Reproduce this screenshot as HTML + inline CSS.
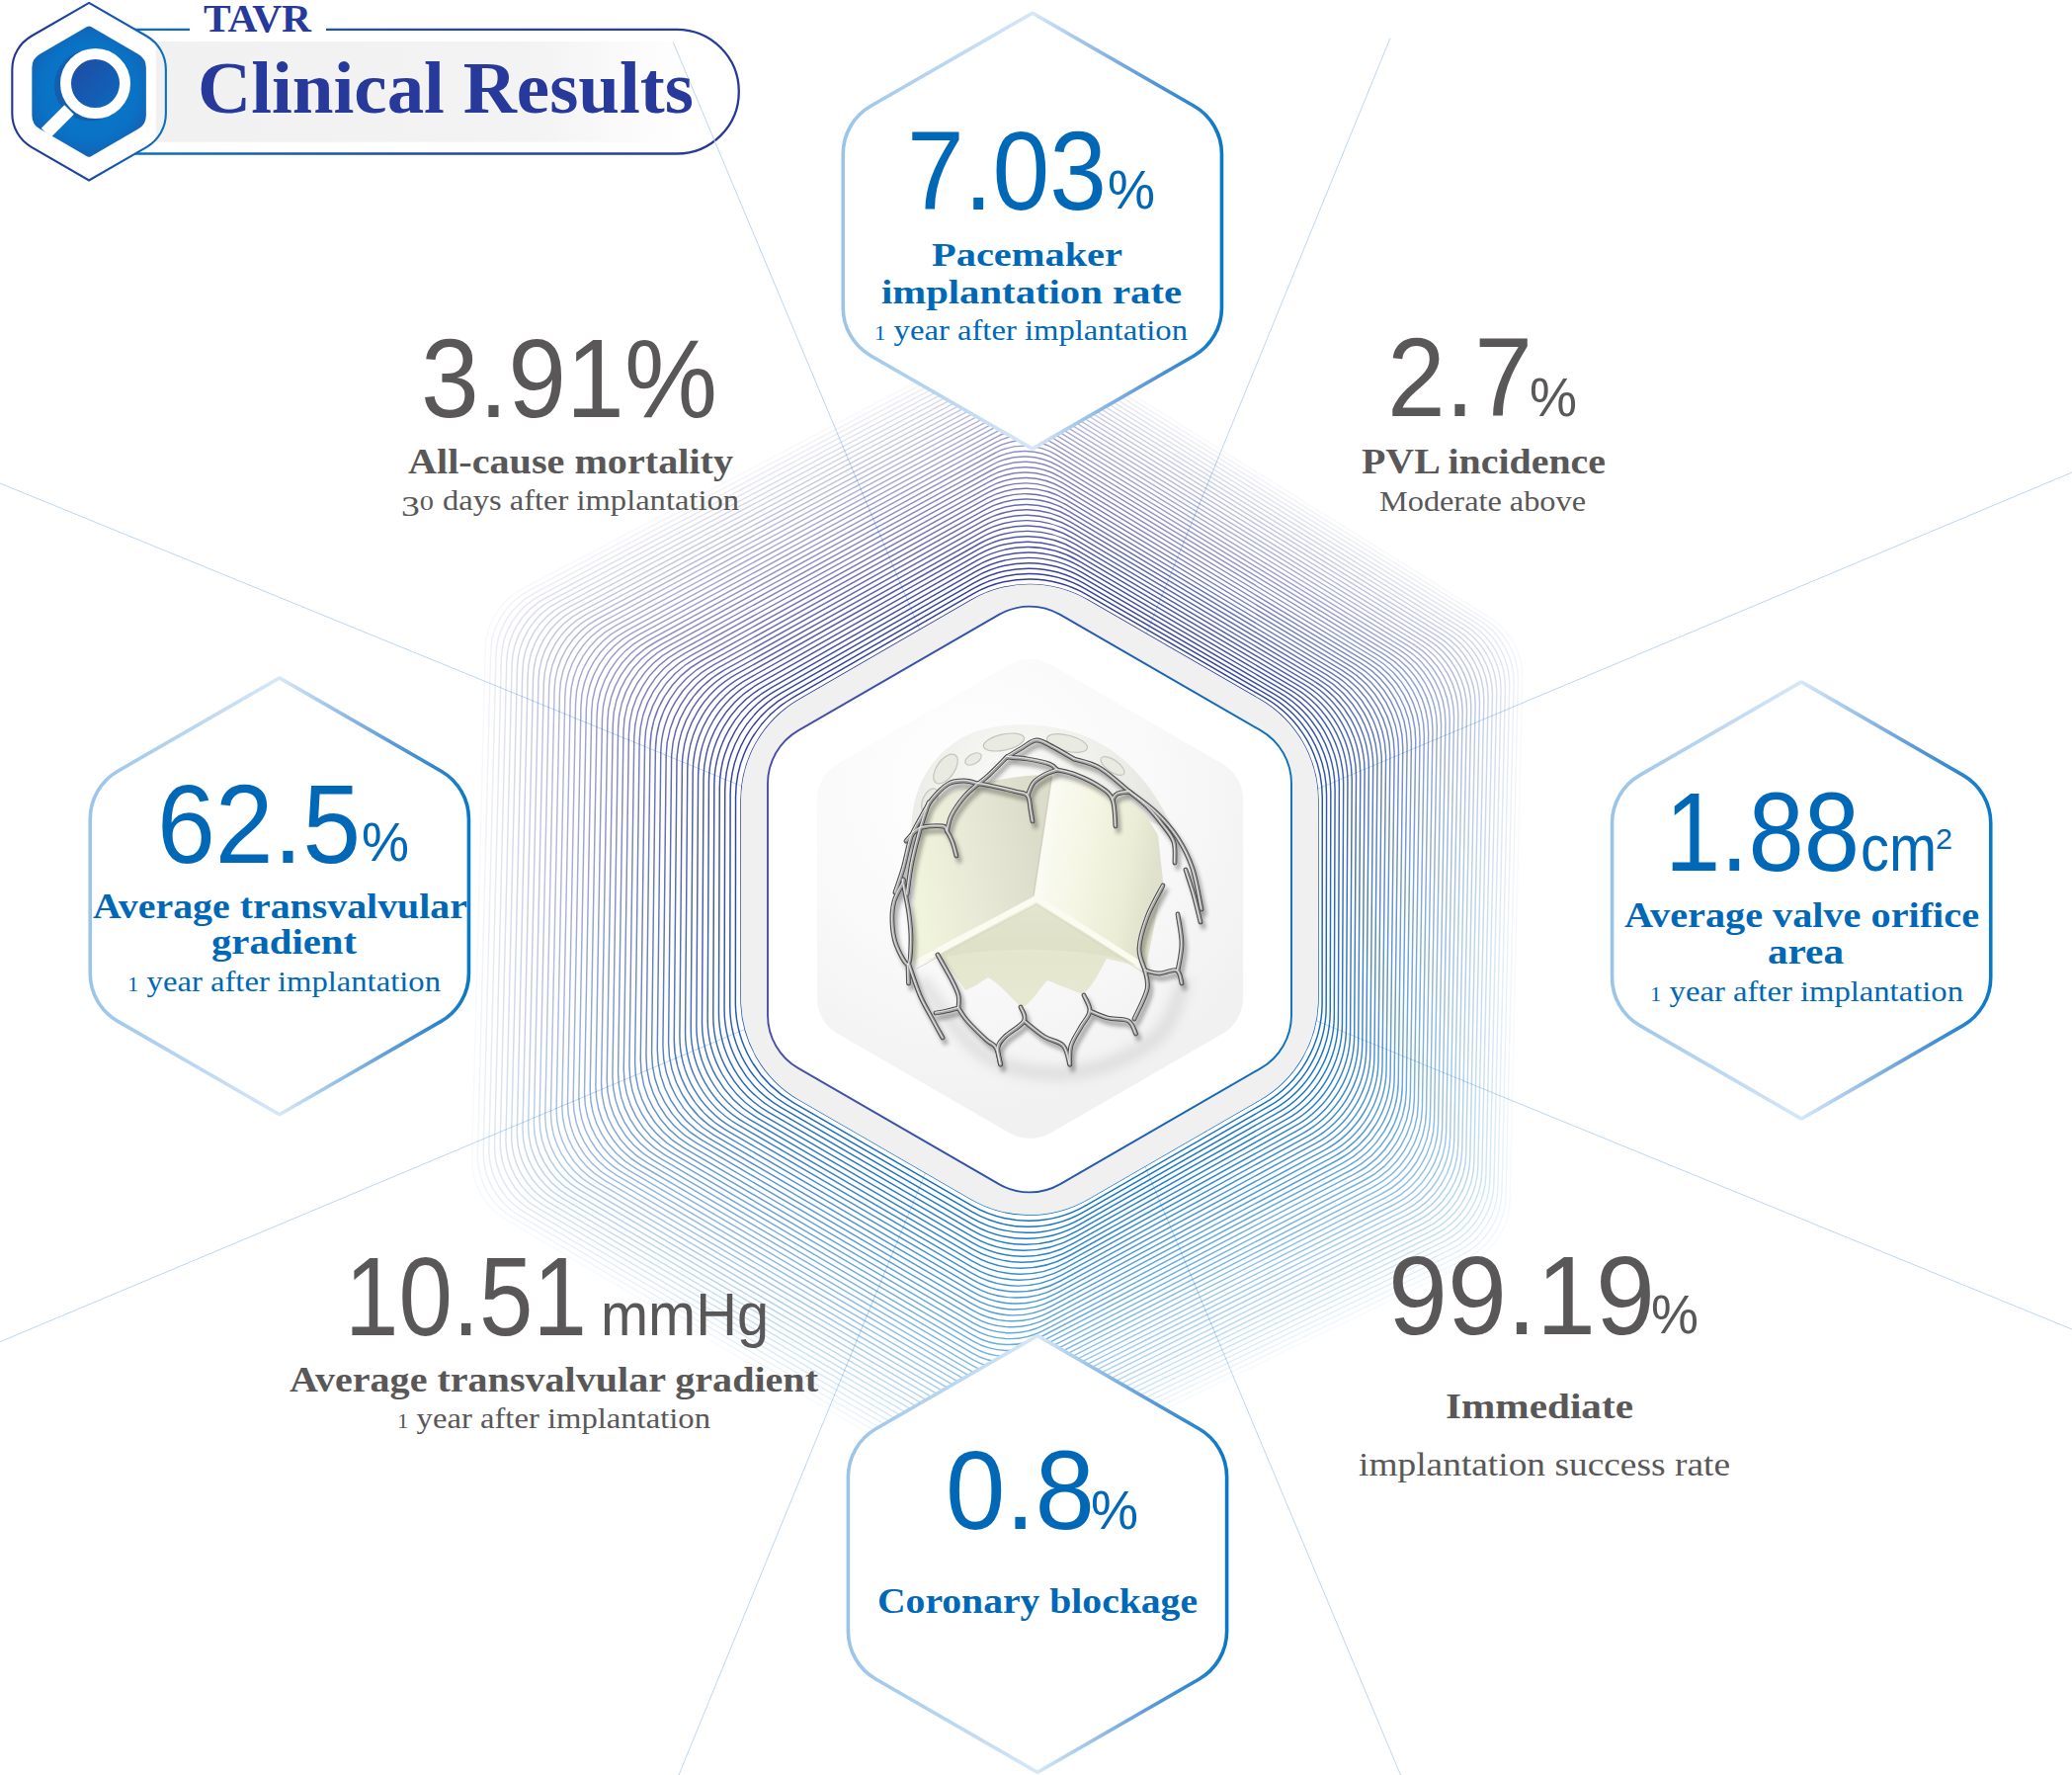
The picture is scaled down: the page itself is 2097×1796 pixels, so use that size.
<!DOCTYPE html>
<html><head><meta charset="utf-8"><title>TAVR Clinical Results</title>
<style>html,body{margin:0;padding:0;background:#fff;}svg{display:block;}</style></head>
<body>
<svg width="2097" height="1796" viewBox="0 0 2097 1796">
<defs>
<linearGradient id="gStat" x1="0" y1="0" x2="1" y2="0">
<stop offset="0" stop-color="#9ac4e8"/><stop offset="0.5" stop-color="#d6e7f7"/><stop offset="0.8" stop-color="#5c9ad8"/><stop offset="1" stop-color="#0878c7"/></linearGradient>
<linearGradient id="gPat" gradientUnits="userSpaceOnUse" x1="900" y1="500" x2="1150" y2="1320">
<stop offset="0" stop-color="#2e3192"/><stop offset="0.3" stop-color="#2d3d9d"/><stop offset="0.5" stop-color="#2552ab"/><stop offset="0.7" stop-color="#1266bc"/><stop offset="1" stop-color="#0878c8"/></linearGradient>
<linearGradient id="gBlueLine" gradientUnits="userSpaceOnUse" x1="776" y1="0" x2="1308" y2="0"><stop offset="0" stop-color="#4a4ea6"/><stop offset="0.5" stop-color="#2a52ac"/><stop offset="1" stop-color="#0a72c0"/></linearGradient>
<radialGradient id="gBg" gradientUnits="userSpaceOnUse" cx="990" cy="800" r="330">
<stop offset="0" stop-color="#ffffff"/><stop offset="0.55" stop-color="#f9f9f9"/><stop offset="1" stop-color="#f1f1f1"/></radialGradient>
<linearGradient id="gPill" gradientUnits="userSpaceOnUse" x1="140" y1="0" x2="748" y2="0">
<stop offset="0" stop-color="#0b6fc1"/><stop offset="0.45" stop-color="#1f4ba6"/><stop offset="1" stop-color="#273996"/></linearGradient>
<linearGradient id="gGray" gradientUnits="userSpaceOnUse" x1="158" y1="0" x2="700" y2="0">
<stop offset="0" stop-color="#f1f1f1"/><stop offset="0.7" stop-color="#f3f3f3"/><stop offset="1" stop-color="#ffffff"/></linearGradient>
<linearGradient id="gLogo" gradientUnits="userSpaceOnUse" x1="12" y1="0" x2="168" y2="0">
<stop offset="0" stop-color="#213592"/><stop offset="0.5" stop-color="#1a4aa6"/><stop offset="1" stop-color="#0b6fc1"/></linearGradient>
<radialGradient id="gLogoFill" gradientUnits="userSpaceOnUse" cx="90" cy="92" r="70">
<stop offset="0" stop-color="#0a78c8"/><stop offset="0.7" stop-color="#0972c4"/><stop offset="1" stop-color="#1560b4"/></radialGradient>
<linearGradient id="gLens" x1="0" y1="0" x2="1" y2="1">
<stop offset="0" stop-color="#2148a0"/><stop offset="1" stop-color="#0a6cc0"/></linearGradient>
</defs>
<rect width="2097" height="1796" fill="#fff"/>
<path d="M118 29.9 H685.0 A62.8 62.8 0 0 1 685.0 155.5 H118" fill="none" stroke="url(#gPill)" stroke-width="2.3"/>
<rect x="192" y="20" width="138" height="20" fill="#fff"/>
<path d="M90.10 2.85 L148.37 36.49 A39.00 39.00 0 0 1 167.87 70.27 L167.87 115.03 A39.00 39.00 0 0 1 148.37 148.81 L90.10 182.45 L31.83 148.81 A39.00 39.00 0 0 1 12.33 115.03 L12.33 70.27 A39.00 39.00 0 0 1 31.83 36.49 Z" fill="#fff"/>
<path d="M157.7 42 H700 V143.7 H157.7 Z" fill="url(#gGray)"/>
<path d="M90.10 2.85 L148.37 36.49 A39.00 39.00 0 0 1 167.87 70.27 L167.87 115.03 A39.00 39.00 0 0 1 148.37 148.81 L90.10 182.45 L31.83 148.81 A39.00 39.00 0 0 1 12.33 115.03 L12.33 70.27 A39.00 39.00 0 0 1 31.83 36.49 Z" fill="none" stroke="url(#gLogo)" stroke-width="2.1"/>
<clipPath id="cpLogo"><path d="M88.10 27.10 A4.00 4.00 0 0 1 92.10 27.10 L139.86 54.68 A16.00 16.00 0 0 1 147.86 68.54 L147.86 116.76 A16.00 16.00 0 0 1 139.86 130.62 L92.10 158.20 A4.00 4.00 0 0 1 88.10 158.20 L40.34 130.62 A16.00 16.00 0 0 1 32.34 116.76 L32.34 68.54 A16.00 16.00 0 0 1 40.34 54.68 Z"/></clipPath>
<path d="M88.10 27.10 A4.00 4.00 0 0 1 92.10 27.10 L139.86 54.68 A16.00 16.00 0 0 1 147.86 68.54 L147.86 116.76 A16.00 16.00 0 0 1 139.86 130.62 L92.10 158.20 A4.00 4.00 0 0 1 88.10 158.20 L40.34 130.62 A16.00 16.00 0 0 1 32.34 116.76 L32.34 68.54 A16.00 16.00 0 0 1 40.34 54.68 Z" fill="url(#gLogoFill)"/>
<g clip-path="url(#cpLogo)"><circle cx="91" cy="86.5" r="36" fill="#1b50a4" opacity="0.6"/></g>
<circle cx="96.5" cy="84.6" r="30" fill="url(#gLens)" stroke="#fff" stroke-width="11"/>
<line x1="70" y1="111" x2="46.5" y2="134.5" stroke="#fff" stroke-width="13.5"/>
<line x1="681.2" y1="42.5" x2="1417.5" y2="1796.0" stroke="#bcd7f0" stroke-width="1"/>
<line x1="1407.0" y1="38.6" x2="687.0" y2="1796.0" stroke="#bcd7f0" stroke-width="1"/>
<line x1="0.0" y1="489.0" x2="2097.0" y2="1345.0" stroke="#bcd7f0" stroke-width="1"/>
<line x1="0.0" y1="1357.7" x2="2097.0" y2="478.0" stroke="#bcd7f0" stroke-width="1"/>
<g fill="none" stroke="url(#gPat)" stroke-width="1.45"><path d="M983.00 607.16 A118.00 118.00 0 0 1 1101.00 607.16 L1275.02 707.64 A118.00 118.00 0 0 1 1334.02 809.83 L1334.02 1010.77 A118.00 118.00 0 0 1 1275.02 1112.96 L1101.00 1213.44 A118.00 118.00 0 0 1 983.00 1213.44 L808.98 1112.96 A118.00 118.00 0 0 1 749.98 1010.77 L749.98 809.83 A118.00 118.00 0 0 1 808.98 707.64 Z" stroke-opacity="1.000"/><path d="M983.88 601.40 A115.90 115.90 0 0 1 1099.75 601.55 L1279.90 705.87 A117.02 117.02 0 0 1 1338.29 807.24 L1338.10 1014.93 A117.02 117.02 0 0 1 1279.32 1116.33 L1098.82 1219.89 A115.90 115.90 0 0 1 983.16 1219.72 L802.82 1115.52 A117.02 117.02 0 0 1 744.35 1014.09 L744.54 806.66 A117.02 117.02 0 0 1 803.21 705.34 Z" stroke-opacity="0.983"/><path d="M984.75 595.63 A113.80 113.80 0 0 1 1098.50 595.94 L1284.78 704.10 A116.04 116.04 0 0 1 1342.56 804.66 L1342.18 1019.10 A116.04 116.04 0 0 1 1283.63 1119.70 L1096.64 1226.33 A113.80 113.80 0 0 1 983.31 1225.99 L796.67 1118.08 A116.04 116.04 0 0 1 738.72 1017.40 L739.12 803.49 A116.04 116.04 0 0 1 797.44 703.04 Z" stroke-opacity="0.965"/><path d="M985.63 589.88 A111.69 111.69 0 0 1 1097.25 590.32 L1289.66 702.34 A115.06 115.06 0 0 1 1346.83 802.07 L1346.26 1023.28 A115.06 115.06 0 0 1 1287.94 1123.07 L1094.47 1232.76 A111.69 111.69 0 0 1 983.44 1232.27 L790.52 1120.63 A115.06 115.06 0 0 1 733.08 1020.72 L733.69 800.31 A115.06 115.06 0 0 1 791.66 700.74 Z" stroke-opacity="0.948"/><path d="M986.52 584.13 A109.59 109.59 0 0 1 1096.01 584.70 L1294.53 700.57 A114.08 114.08 0 0 1 1351.10 799.49 L1350.33 1027.45 A114.08 114.08 0 0 1 1292.27 1126.45 L1092.30 1239.16 A109.59 109.59 0 0 1 983.57 1238.53 L784.36 1123.19 A114.08 114.08 0 0 1 727.44 1024.05 L728.27 797.14 A114.08 114.08 0 0 1 785.88 698.43 Z" stroke-opacity="0.930"/><path d="M987.40 578.39 A107.49 107.49 0 0 1 1094.77 579.08 L1299.40 698.81 A113.10 113.10 0 0 1 1355.38 796.91 L1354.40 1031.64 A113.10 113.10 0 0 1 1296.60 1129.83 L1090.13 1245.56 A107.49 107.49 0 0 1 983.69 1244.80 L778.20 1125.74 A113.10 113.10 0 0 1 721.80 1027.37 L722.85 793.96 A113.10 113.10 0 0 1 780.10 696.12 Z" stroke-opacity="0.913"/><path d="M988.29 572.65 A105.39 105.39 0 0 1 1093.53 573.45 L1304.27 697.06 A112.12 112.12 0 0 1 1359.66 794.33 L1358.47 1035.83 A112.12 112.12 0 0 1 1300.94 1133.21 L1087.97 1251.94 A105.39 105.39 0 0 1 983.79 1251.06 L772.04 1128.29 A112.12 112.12 0 0 1 716.16 1030.69 L717.43 790.78 A112.12 112.12 0 0 1 774.31 693.81 Z" stroke-opacity="0.895"/><path d="M989.18 566.92 A103.29 103.29 0 0 1 1092.30 567.82 L1309.13 695.30 A111.14 111.14 0 0 1 1363.94 791.75 L1362.53 1040.03 A111.14 111.14 0 0 1 1305.29 1136.59 L1085.81 1258.30 A103.29 103.29 0 0 1 983.89 1257.31 L765.88 1130.83 A111.14 111.14 0 0 1 710.52 1034.02 L712.02 787.60 A111.14 111.14 0 0 1 768.52 691.49 Z" stroke-opacity="0.877"/><path d="M990.07 561.19 A101.18 101.18 0 0 1 1091.07 562.19 L1314.00 693.55 A110.16 110.16 0 0 1 1368.23 789.17 L1366.60 1044.23 A110.16 110.16 0 0 1 1309.65 1139.98 L1083.66 1264.65 A101.18 101.18 0 0 1 983.98 1263.56 L759.72 1133.38 A110.16 110.16 0 0 1 704.87 1037.35 L706.60 784.42 A110.16 110.16 0 0 1 762.72 689.18 Z" stroke-opacity="0.859"/><path d="M990.96 555.47 A99.08 99.08 0 0 1 1089.85 556.55 L1318.86 691.80 A109.18 109.18 0 0 1 1372.51 786.59 L1370.66 1048.43 A109.18 109.18 0 0 1 1314.01 1143.37 L1081.50 1270.99 A99.08 99.08 0 0 1 984.06 1269.81 L753.56 1135.93 A109.18 109.18 0 0 1 699.22 1040.68 L701.19 781.23 A109.18 109.18 0 0 1 756.92 686.86 Z" stroke-opacity="0.842"/><path d="M991.85 549.75 A96.98 96.98 0 0 1 1088.63 550.91 L1323.71 690.05 A108.20 108.20 0 0 1 1376.80 784.01 L1374.72 1052.64 A108.20 108.20 0 0 1 1318.38 1146.77 L1079.35 1277.32 A96.98 96.98 0 0 1 984.14 1276.06 L747.40 1138.47 A108.20 108.20 0 0 1 693.57 1044.02 L695.78 778.05 A108.20 108.20 0 0 1 751.12 684.54 Z" stroke-opacity="0.824"/><path d="M992.74 544.04 A94.88 94.88 0 0 1 1087.41 545.27 L1328.57 688.31 A107.22 107.22 0 0 1 1381.09 781.43 L1378.77 1056.86 A107.22 107.22 0 0 1 1322.76 1150.16 L1077.21 1283.64 A94.88 94.88 0 0 1 984.20 1282.30 L741.23 1141.01 A107.22 107.22 0 0 1 687.91 1047.35 L690.38 774.86 A107.22 107.22 0 0 1 745.32 682.22 Z" stroke-opacity="0.806"/><path d="M993.64 538.33 A92.78 92.78 0 0 1 1086.19 539.62 L1333.42 686.56 A106.24 106.24 0 0 1 1385.38 778.86 L1382.83 1061.08 A106.24 106.24 0 0 1 1327.15 1153.56 L1075.06 1289.95 A92.78 92.78 0 0 1 984.26 1288.54 L735.07 1143.55 A106.24 106.24 0 0 1 682.26 1050.69 L684.97 771.67 A106.24 106.24 0 0 1 739.51 679.89 Z" stroke-opacity="0.788"/><path d="M994.54 532.62 A90.67 90.67 0 0 1 1084.97 533.97 L1338.28 684.82 A105.27 105.27 0 0 1 1389.68 776.28 L1386.88 1065.30 A105.27 105.27 0 0 1 1331.54 1156.96 L1072.92 1296.24 A90.67 90.67 0 0 1 984.31 1294.77 L728.90 1146.09 A105.27 105.27 0 0 1 676.60 1054.02 L679.57 768.48 A105.27 105.27 0 0 1 733.70 677.56 Z" stroke-opacity="0.769"/><path d="M995.43 526.92 A88.57 88.57 0 0 1 1083.76 528.32 L1343.13 683.08 A104.29 104.29 0 0 1 1393.97 773.71 L1390.94 1069.53 A104.29 104.29 0 0 1 1335.93 1160.36 L1070.78 1302.53 A88.57 88.57 0 0 1 984.35 1301.01 L722.73 1148.63 A104.29 104.29 0 0 1 670.94 1057.36 L674.17 765.29 A104.29 104.29 0 0 1 727.89 675.24 Z" stroke-opacity="0.751"/><path d="M996.33 521.22 A86.47 86.47 0 0 1 1082.55 522.67 L1347.98 681.34 A103.31 103.31 0 0 1 1398.27 771.13 L1394.99 1073.76 A103.31 103.31 0 0 1 1340.34 1163.77 L1068.65 1308.81 A86.47 86.47 0 0 1 984.39 1307.24 L716.57 1151.17 A103.31 103.31 0 0 1 665.28 1060.70 L668.77 762.10 A103.31 103.31 0 0 1 722.07 672.91 Z" stroke-opacity="0.733"/><path d="M997.23 515.53 A84.37 84.37 0 0 1 1081.34 517.02 L1352.82 679.60 A102.33 102.33 0 0 1 1402.57 768.56 L1399.04 1077.99 A102.33 102.33 0 0 1 1344.75 1167.18 L1066.52 1315.08 A84.37 84.37 0 0 1 984.42 1313.46 L710.40 1153.70 A102.33 102.33 0 0 1 659.62 1064.04 L663.37 758.91 A102.33 102.33 0 0 1 716.25 670.57 Z" stroke-opacity="0.715"/><path d="M998.13 509.84 A82.27 82.27 0 0 1 1080.13 511.36 L1357.67 677.87 A101.35 101.35 0 0 1 1406.87 765.99 L1403.08 1082.23 A101.35 101.35 0 0 1 1349.16 1170.59 L1064.39 1321.33 A82.27 82.27 0 0 1 984.45 1319.69 L704.23 1156.24 A101.35 101.35 0 0 1 653.95 1067.38 L657.98 755.71 A101.35 101.35 0 0 1 710.44 668.24 Z" stroke-opacity="0.696"/><path d="M999.04 504.15 A80.16 80.16 0 0 1 1078.93 505.70 L1362.51 676.13 A100.37 100.37 0 0 1 1411.17 763.42 L1407.13 1086.47 A100.37 100.37 0 0 1 1353.58 1174.00 L1062.26 1327.59 A80.16 80.16 0 0 1 984.47 1325.91 L698.06 1158.77 A100.37 100.37 0 0 1 648.29 1070.73 L652.58 752.51 A100.37 100.37 0 0 1 704.61 665.90 Z" stroke-opacity="0.678"/><path d="M999.94 498.47 A78.06 78.06 0 0 1 1077.73 500.04 L1367.36 674.40 A99.39 99.39 0 0 1 1415.48 760.84 L1411.17 1090.72 A99.39 99.39 0 0 1 1358.00 1177.41 L1060.13 1333.83 A78.06 78.06 0 0 1 984.48 1332.13 L691.89 1161.30 A99.39 99.39 0 0 1 642.62 1074.07 L647.19 749.32 A99.39 99.39 0 0 1 698.79 663.57 Z" stroke-opacity="0.659"/><path d="M1000.84 492.79 A75.96 75.96 0 0 1 1076.53 494.38 L1372.20 672.67 A98.41 98.41 0 0 1 1419.78 758.27 L1415.22 1094.96 A98.41 98.41 0 0 1 1362.43 1180.83 L1058.01 1340.06 A75.96 75.96 0 0 1 984.49 1338.35 L685.71 1163.83 A98.41 98.41 0 0 1 636.95 1077.42 L641.80 746.12 A98.41 98.41 0 0 1 692.96 661.23 Z" stroke-opacity="0.640"/><path d="M1001.75 487.11 A73.86 73.86 0 0 1 1075.33 488.71 L1377.04 670.94 A97.43 97.43 0 0 1 1424.09 755.70 L1419.26 1099.22 A97.43 97.43 0 0 1 1366.86 1184.25 L1055.89 1346.29 A73.86 73.86 0 0 1 984.50 1344.56 L679.54 1166.36 A97.43 97.43 0 0 1 631.28 1080.76 L636.41 742.92 A97.43 97.43 0 0 1 687.14 658.89 Z" stroke-opacity="0.621"/><path d="M1002.66 481.43 A71.76 71.76 0 0 1 1074.13 483.05 L1381.88 669.21 A96.45 96.45 0 0 1 1428.39 753.14 L1423.30 1103.47 A96.45 96.45 0 0 1 1371.30 1187.67 L1053.77 1352.51 A71.76 71.76 0 0 1 984.49 1350.78 L673.37 1168.89 A96.45 96.45 0 0 1 625.61 1084.11 L631.02 739.72 A96.45 96.45 0 0 1 681.31 656.55 Z" stroke-opacity="0.603"/><path d="M1003.56 475.76 A69.65 69.65 0 0 1 1072.94 477.38 L1386.71 667.48 A95.47 95.47 0 0 1 1432.70 750.57 L1427.34 1107.73 A95.47 95.47 0 0 1 1375.74 1191.09 L1051.65 1358.73 A69.65 69.65 0 0 1 984.49 1356.99 L667.19 1171.42 A95.47 95.47 0 0 1 619.93 1087.46 L625.63 736.52 A95.47 95.47 0 0 1 675.48 654.20 Z" stroke-opacity="0.584"/><path d="M1004.47 470.09 A67.55 67.55 0 0 1 1071.74 471.71 L1391.55 665.75 A94.49 94.49 0 0 1 1437.01 748.00 L1431.38 1111.99 A94.49 94.49 0 0 1 1380.19 1194.51 L1049.54 1364.94 A67.55 67.55 0 0 1 984.48 1363.20 L661.02 1173.95 A94.49 94.49 0 0 1 614.26 1090.81 L620.25 733.32 A94.49 94.49 0 0 1 669.64 651.86 Z" stroke-opacity="0.564"/><path d="M1005.38 464.43 A65.45 65.45 0 0 1 1070.55 466.04 L1396.38 664.03 A93.51 93.51 0 0 1 1441.32 745.43 L1435.41 1116.25 A93.51 93.51 0 0 1 1384.64 1197.94 L1047.43 1371.14 A65.45 65.45 0 0 1 984.46 1369.40 L654.85 1176.48 A93.51 93.51 0 0 1 608.58 1094.16 L614.86 730.12 A93.51 93.51 0 0 1 663.81 649.51 Z" stroke-opacity="0.545"/><path d="M1006.29 458.76 A63.35 63.35 0 0 1 1069.36 460.36 L1401.22 662.30 A92.53 92.53 0 0 1 1445.63 742.86 L1439.45 1120.51 A92.53 92.53 0 0 1 1389.09 1201.37 L1045.32 1377.33 A63.35 63.35 0 0 1 984.44 1375.61 L648.67 1179.00 A92.53 92.53 0 0 1 602.91 1097.51 L609.48 726.91 A92.53 92.53 0 0 1 657.97 647.17 Z" stroke-opacity="0.526"/><path d="M1007.20 453.10 A61.24 61.24 0 0 1 1068.17 454.69 L1406.05 660.58 A91.55 91.55 0 0 1 1449.95 740.30 L1443.49 1124.78 A91.55 91.55 0 0 1 1393.55 1204.79 L1043.21 1383.52 A61.24 61.24 0 0 1 984.42 1381.81 L642.49 1181.53 A91.55 91.55 0 0 1 597.23 1100.87 L604.10 723.71 A91.55 91.55 0 0 1 652.14 644.82 Z" stroke-opacity="0.506"/><path d="M1008.11 447.44 A59.14 59.14 0 0 1 1066.98 449.01 L1410.88 658.86 A90.57 90.57 0 0 1 1454.26 737.73 L1447.52 1129.05 A90.57 90.57 0 0 1 1398.01 1208.22 L1041.10 1389.71 A59.14 59.14 0 0 1 984.39 1388.01 L636.32 1184.05 A90.57 90.57 0 0 1 591.55 1104.22 L598.72 720.51 A90.57 90.57 0 0 1 646.30 642.47 Z" stroke-opacity="0.487"/><path d="M1009.03 441.78 A57.04 57.04 0 0 1 1065.80 443.34 L1415.71 657.13 A89.59 89.59 0 0 1 1458.57 735.16 L1451.55 1133.32 A89.59 89.59 0 0 1 1402.48 1211.66 L1039.00 1395.88 A57.04 57.04 0 0 1 984.36 1394.21 L630.14 1186.58 A89.59 89.59 0 0 1 585.87 1107.57 L593.34 717.30 A89.59 89.59 0 0 1 640.46 640.12 Z" stroke-opacity="0.467"/><path d="M1009.94 436.12 A54.94 54.94 0 0 1 1064.61 437.66 L1420.54 655.41 A88.61 88.61 0 0 1 1462.89 732.60 L1455.58 1137.60 A88.61 88.61 0 0 1 1406.95 1215.09 L1036.89 1402.06 A54.94 54.94 0 0 1 984.33 1400.41 L623.96 1189.10 A88.61 88.61 0 0 1 580.19 1110.93 L587.96 714.10 A88.61 88.61 0 0 1 634.61 637.77 Z" stroke-opacity="0.447"/><path d="M1010.85 430.47 A52.84 52.84 0 0 1 1063.43 431.98 L1425.36 653.69 A87.63 87.63 0 0 1 1467.21 730.03 L1459.62 1141.87 A87.63 87.63 0 0 1 1411.42 1218.52 L1034.79 1408.22 A52.84 52.84 0 0 1 984.29 1406.61 L617.78 1191.62 A87.63 87.63 0 0 1 574.51 1114.28 L582.58 710.89 A87.63 87.63 0 0 1 628.77 635.42 Z" stroke-opacity="0.427"/><path d="M1011.77 424.82 A50.73 50.73 0 0 1 1062.24 426.30 L1430.19 651.97 A86.65 86.65 0 0 1 1471.52 727.47 L1463.65 1146.15 A86.65 86.65 0 0 1 1415.89 1221.96 L1032.69 1414.39 A50.73 50.73 0 0 1 984.25 1412.80 L611.61 1194.15 A86.65 86.65 0 0 1 568.83 1117.64 L577.20 707.68 A86.65 86.65 0 0 1 622.93 633.06 Z" stroke-opacity="0.407"/><path d="M1012.68 419.17 A48.63 48.63 0 0 1 1061.06 420.61 L1435.02 650.25 A85.67 85.67 0 0 1 1475.84 724.91 L1467.68 1150.43 A85.67 85.67 0 0 1 1420.37 1225.40 L1030.59 1420.54 A48.63 48.63 0 0 1 984.20 1419.00 L605.43 1196.67 A85.67 85.67 0 0 1 563.14 1121.00 L571.82 704.47 A85.67 85.67 0 0 1 617.08 630.71 Z" stroke-opacity="0.386"/><path d="M1013.60 413.52 A46.53 46.53 0 0 1 1059.88 414.93 L1439.84 648.54 A84.69 84.69 0 0 1 1480.16 722.34 L1471.70 1154.72 A84.69 84.69 0 0 1 1424.85 1228.84 L1028.50 1426.70 A46.53 46.53 0 0 1 984.16 1425.19 L599.25 1199.19 A84.69 84.69 0 0 1 557.46 1124.35 L566.45 701.27 A84.69 84.69 0 0 1 611.23 628.35 Z" stroke-opacity="0.366"/><path d="M1014.51 407.88 A44.43 44.43 0 0 1 1058.70 409.24 L1444.67 646.82 A83.71 83.71 0 0 1 1484.48 719.78 L1475.73 1159.00 A83.71 83.71 0 0 1 1429.34 1232.28 L1026.40 1432.85 A44.43 44.43 0 0 1 984.10 1431.38 L593.07 1201.71 A83.71 83.71 0 0 1 551.77 1127.71 L561.07 698.06 A83.71 83.71 0 0 1 605.39 626.00 Z" stroke-opacity="0.345"/><path d="M1015.43 402.23 A42.33 42.33 0 0 1 1057.52 403.56 L1449.49 645.10 A82.73 82.73 0 0 1 1488.80 717.22 L1479.76 1163.29 A82.73 82.73 0 0 1 1433.82 1235.72 L1024.31 1438.99 A42.33 42.33 0 0 1 984.05 1437.57 L586.89 1204.23 A82.73 82.73 0 0 1 546.08 1131.07 L555.70 694.85 A82.73 82.73 0 0 1 599.54 623.64 Z" stroke-opacity="0.324"/><path d="M1016.35 396.59 A40.22 40.22 0 0 1 1056.35 397.87 L1454.31 643.39 A81.76 81.76 0 0 1 1493.12 714.65 L1483.78 1167.58 A81.76 81.76 0 0 1 1438.31 1239.16 L1022.22 1445.13 A40.22 40.22 0 0 1 983.99 1443.76 L580.71 1206.75 A81.76 81.76 0 0 1 540.40 1134.43 L550.33 691.64 A81.76 81.76 0 0 1 593.69 621.28 Z" stroke-opacity="0.302"/><path d="M1017.26 390.95 A38.12 38.12 0 0 1 1055.17 392.18 L1459.13 641.67 A80.78 80.78 0 0 1 1497.45 712.09 L1487.81 1171.87 A80.78 80.78 0 0 1 1442.81 1242.60 L1020.13 1451.27 A38.12 38.12 0 0 1 983.93 1449.95 L574.53 1209.27 A80.78 80.78 0 0 1 534.71 1137.79 L544.96 688.43 A80.78 80.78 0 0 1 587.83 618.93 Z" stroke-opacity="0.281"/><path d="M1018.18 385.31 A36.02 36.02 0 0 1 1054.00 386.49 L1463.95 639.96 A79.80 79.80 0 0 1 1501.77 709.53 L1491.83 1176.16 A79.80 79.80 0 0 1 1447.30 1246.05 L1018.04 1457.40 A36.02 36.02 0 0 1 983.87 1456.13 L568.35 1211.78 A79.80 79.80 0 0 1 529.02 1141.15 L539.59 685.22 A79.80 79.80 0 0 1 581.98 616.57 Z" stroke-opacity="0.259"/><path d="M1019.10 379.67 A33.92 33.92 0 0 1 1052.82 380.80 L1468.77 638.25 A78.82 78.82 0 0 1 1506.09 706.97 L1495.86 1180.45 A78.82 78.82 0 0 1 1451.80 1249.50 L1015.95 1463.53 A33.92 33.92 0 0 1 983.80 1462.32 L562.16 1214.30 A78.82 78.82 0 0 1 523.33 1144.51 L534.21 682.01 A78.82 78.82 0 0 1 576.13 614.21 Z" stroke-opacity="0.237"/><path d="M1020.02 374.03 A31.82 31.82 0 0 1 1051.65 375.11 L1473.59 636.53 A77.84 77.84 0 0 1 1510.42 704.41 L1499.88 1184.75 A77.84 77.84 0 0 1 1456.30 1252.94 L1013.86 1469.65 A31.82 31.82 0 0 1 983.73 1468.50 L555.98 1216.82 A77.84 77.84 0 0 1 517.64 1147.87 L528.85 678.80 A77.84 77.84 0 0 1 570.28 611.84 Z" stroke-opacity="0.214"/><path d="M1020.94 368.40 A29.71 29.71 0 0 1 1050.48 369.42 L1478.41 634.82 A76.86 76.86 0 0 1 1514.74 701.85 L1503.90 1189.05 A76.86 76.86 0 0 1 1460.80 1256.39 L1011.78 1475.77 A29.71 29.71 0 0 1 983.66 1474.68 L549.80 1219.34 A76.86 76.86 0 0 1 511.95 1151.24 L523.48 675.58 A76.86 76.86 0 0 1 564.42 609.48 Z" stroke-opacity="0.191"/><path d="M1021.86 362.76 A27.61 27.61 0 0 1 1049.30 363.73 L1483.23 633.11 A75.88 75.88 0 0 1 1519.07 699.28 L1507.92 1193.34 A75.88 75.88 0 0 1 1465.31 1259.84 L1009.70 1481.89 A27.61 27.61 0 0 1 983.59 1480.87 L543.62 1221.85 A75.88 75.88 0 0 1 506.26 1154.60 L518.11 672.37 A75.88 75.88 0 0 1 558.56 607.12 Z" stroke-opacity="0.168"/><path d="M1022.78 357.13 A25.51 25.51 0 0 1 1048.13 358.03 L1488.05 631.40 A74.90 74.90 0 0 1 1523.39 696.72 L1511.94 1197.64 A74.90 74.90 0 0 1 1469.81 1263.29 L1007.61 1488.01 A25.51 25.51 0 0 1 983.51 1487.05 L537.43 1224.37 A74.90 74.90 0 0 1 500.56 1157.96 L512.74 669.16 A74.90 74.90 0 0 1 552.71 604.76 Z" stroke-opacity="0.144"/><path d="M1023.70 351.50 A23.41 23.41 0 0 1 1046.96 352.34 L1492.86 629.69 A73.92 73.92 0 0 1 1527.72 694.16 L1515.96 1201.95 A73.92 73.92 0 0 1 1474.32 1266.74 L1005.53 1494.12 A23.41 23.41 0 0 1 983.44 1493.23 L531.25 1226.88 A73.92 73.92 0 0 1 494.87 1161.33 L507.37 665.94 A73.92 73.92 0 0 1 546.85 602.39 Z" stroke-opacity="0.119"/><path d="M1024.62 345.87 A21.31 21.31 0 0 1 1045.79 346.64 L1497.68 627.98 A72.94 72.94 0 0 1 1532.05 691.61 L1519.98 1206.25 A72.94 72.94 0 0 1 1478.84 1270.20 L1003.45 1500.23 A21.31 21.31 0 0 1 983.36 1499.40 L525.07 1229.40 A72.94 72.94 0 0 1 489.18 1164.69 L502.01 662.73 A72.94 72.94 0 0 1 540.99 600.03 Z" stroke-opacity="0.093"/><path d="M1025.54 340.24 A19.20 19.20 0 0 1 1044.62 340.95 L1502.49 626.27 A71.96 71.96 0 0 1 1536.37 689.05 L1524.00 1210.55 A71.96 71.96 0 0 1 1483.35 1273.65 L1001.37 1506.33 A19.20 19.20 0 0 1 983.27 1505.58 L518.88 1231.91 A71.96 71.96 0 0 1 483.48 1168.06 L496.64 659.52 A71.96 71.96 0 0 1 535.13 597.66 Z" stroke-opacity="0.066"/><path d="M1026.46 334.61 A17.10 17.10 0 0 1 1043.46 335.25 L1507.31 624.56 A70.98 70.98 0 0 1 1540.70 686.49 L1528.02 1214.86 A70.98 70.98 0 0 1 1487.86 1277.10 L999.29 1512.43 A17.10 17.10 0 0 1 983.19 1511.76 L512.70 1234.43 A70.98 70.98 0 0 1 477.79 1171.42 L491.28 656.30 A70.98 70.98 0 0 1 529.27 595.30 Z" stroke-opacity="0.037"/><path d="M1027.39 328.99 A15.00 15.00 0 0 1 1042.29 329.55 L1512.12 622.85 A70.00 70.00 0 0 1 1545.03 683.93 L1532.04 1219.17 A70.00 70.00 0 0 1 1492.38 1280.56 L997.22 1518.53 A15.00 15.00 0 0 1 983.10 1517.93 L506.51 1236.94 A70.00 70.00 0 0 1 472.09 1174.79 L485.91 653.09 A70.00 70.00 0 0 1 523.41 592.93 Z" stroke-opacity="0.000"/></g>
<path d="M983.00 607.16 A118.00 118.00 0 0 1 1101.00 607.16 L1275.02 707.64 A118.00 118.00 0 0 1 1334.02 809.83 L1334.02 1010.77 A118.00 118.00 0 0 1 1275.02 1112.96 L1101.00 1213.44 A118.00 118.00 0 0 1 983.00 1213.44 L808.98 1112.96 A118.00 118.00 0 0 1 749.98 1010.77 L749.98 809.83 A118.00 118.00 0 0 1 808.98 707.64 Z" fill="#f0f0f0"/>
<path d="M1011.00 621.90 A62.00 62.00 0 0 1 1073.00 621.90 L1276.00 739.10 A62.00 62.00 0 0 1 1307.00 792.80 L1307.00 1027.20 A62.00 62.00 0 0 1 1276.00 1080.90 L1073.00 1198.10 A62.00 62.00 0 0 1 1011.00 1198.10 L808.00 1080.90 A62.00 62.00 0 0 1 777.00 1027.20 L777.00 792.80 A62.00 62.00 0 0 1 808.00 739.10 Z" fill="#fff" stroke="url(#gBlueLine)" stroke-width="1.9"/>
<path d="M1021.50 672.52 A42.00 42.00 0 0 1 1063.50 672.52 L1237.14 772.78 A42.00 42.00 0 0 1 1258.14 809.15 L1258.14 1009.65 A42.00 42.00 0 0 1 1237.14 1046.02 L1063.50 1146.28 A42.00 42.00 0 0 1 1021.50 1146.28 L847.86 1046.02 A42.00 42.00 0 0 1 826.86 1009.65 L826.86 809.15 A42.00 42.00 0 0 1 847.86 772.78 Z" fill="url(#gBg)"/>
<path d="M1044.10 13.63 A1.50 1.50 0 0 1 1045.60 13.63 L1208.37 107.25 A56.00 56.00 0 0 1 1236.45 155.79 L1236.45 311.41 A56.00 56.00 0 0 1 1208.37 359.95 L1045.60 453.57 A1.50 1.50 0 0 1 1044.10 453.57 L881.33 359.95 A56.00 56.00 0 0 1 853.25 311.41 L853.25 155.79 A56.00 56.00 0 0 1 881.33 107.25 Z" fill="#fff" stroke="url(#gStat)" stroke-width="3.6"/>
<path d="M282.10 686.33 A1.50 1.50 0 0 1 283.60 686.33 L446.42 780.19 A56.00 56.00 0 0 1 474.45 828.71 L474.45 984.89 A56.00 56.00 0 0 1 446.42 1033.41 L283.60 1127.27 A1.50 1.50 0 0 1 282.10 1127.27 L119.28 1033.41 A56.00 56.00 0 0 1 91.25 984.89 L91.25 828.71 A56.00 56.00 0 0 1 119.28 780.19 Z" fill="#fff" stroke="url(#gStat)" stroke-width="3.6"/>
<path d="M1822.40 690.43 A1.50 1.50 0 0 1 1823.90 690.43 L1986.73 784.34 A56.00 56.00 0 0 1 2014.75 832.85 L2014.75 989.15 A56.00 56.00 0 0 1 1986.73 1037.66 L1823.90 1131.57 A1.50 1.50 0 0 1 1822.40 1131.57 L1659.57 1037.66 A56.00 56.00 0 0 1 1631.55 989.15 L1631.55 832.85 A56.00 56.00 0 0 1 1659.57 784.34 Z" fill="#fff" stroke="url(#gStat)" stroke-width="3.6"/>
<path d="M1049.25 1351.93 A1.50 1.50 0 0 1 1050.75 1351.93 L1213.57 1445.79 A56.00 56.00 0 0 1 1241.60 1494.31 L1241.60 1650.49 A56.00 56.00 0 0 1 1213.57 1699.01 L1050.75 1792.87 A1.50 1.50 0 0 1 1049.25 1792.87 L886.43 1699.01 A56.00 56.00 0 0 1 858.40 1650.49 L858.40 1494.31 A56.00 56.00 0 0 1 886.43 1445.79 Z" fill="#fff" stroke="url(#gStat)" stroke-width="3.6"/>
<defs>
<filter id="fSh" x="-20%" y="-20%" width="140%" height="140%"><feGaussianBlur in="SourceAlpha" stdDeviation="2.2"/><feOffset dx="3" dy="5"/><feComponentTransfer><feFuncA type="linear" slope="0.35"/></feComponentTransfer><feMerge><feMergeNode/><feMergeNode in="SourceGraphic"/></feMerge></filter>
<filter id="fBl" x="-30%" y="-30%" width="160%" height="160%"><feGaussianBlur stdDeviation="6"/></filter>
<radialGradient id="gDome" gradientUnits="userSpaceOnUse" cx="1030" cy="790" r="150"><stop offset="0" stop-color="#fbfbf9"/><stop offset="1" stop-color="#e6e6e1"/></radialGradient>
<linearGradient id="gLL" gradientUnits="userSpaceOnUse" x1="925" y1="880" x2="1050" y2="860"><stop offset="0" stop-color="#f1f4dc"/><stop offset="0.5" stop-color="#e7e8d6"/><stop offset="1" stop-color="#dcdcca"/></linearGradient>
<linearGradient id="gRL" gradientUnits="userSpaceOnUse" x1="1055" y1="860" x2="1170" y2="880"><stop offset="0" stop-color="#fafbf2"/><stop offset="0.35" stop-color="#f5f6e4"/><stop offset="0.75" stop-color="#ebedd6"/><stop offset="1" stop-color="#e0e1cc"/></linearGradient>
<linearGradient id="gFL" gradientUnits="userSpaceOnUse" x1="0" y1="915" x2="0" y2="1020"><stop offset="0" stop-color="#eef0da"/><stop offset="0.5" stop-color="#e4e6cd"/><stop offset="1" stop-color="#e6e8d3"/></linearGradient>
</defs>
<path d="M930.0 990.0 C941.7 1003.3 973.3 1054.2 1000.0 1070.0 C1026.7 1085.8 1061.7 1088.3 1090.0 1085.0 C1118.3 1081.7 1151.7 1065.8 1170.0 1050.0 C1188.3 1034.2 1195.0 1000.0 1200.0 990.0" fill="none" stroke="#b8b8b8" stroke-width="14" opacity="0.35" filter="url(#fBl)"/>
<path d="M924 860 C916 805 940 760 985 741 C1020 728 1080 730 1120 756 C1150 775 1172 805 1188 840 L1165 832 C1140 805 1100 790 1068 785 C1040 782 1000 790 965 800 C945 808 930 825 924 860 Z" fill="url(#gDome)"/>
<ellipse cx="957" cy="778" rx="9" ry="17" transform="rotate(35 957 778)" fill="#e9eae2" stroke="#c4c5bd" stroke-width="1.2"/>
<ellipse cx="1016" cy="751" rx="21" ry="8" transform="rotate(-12 1016 751)" fill="#e9eae2" stroke="#c4c5bd" stroke-width="1.2"/>
<ellipse cx="1080" cy="752" rx="21" ry="8" transform="rotate(14 1080 752)" fill="#e9eae2" stroke="#c4c5bd" stroke-width="1.2"/>
<ellipse cx="941" cy="810" rx="7" ry="13" transform="rotate(25 941 810)" fill="#e9eae2" stroke="#c4c5bd" stroke-width="1.2"/>
<ellipse cx="1126" cy="775" rx="14" ry="6" transform="rotate(35 1126 775)" fill="#e9eae2" stroke="#c4c5bd" stroke-width="1.2"/>
<ellipse cx="985" cy="768" rx="9" ry="5" transform="rotate(-30 985 768)" fill="#e9eae2" stroke="#c4c5bd" stroke-width="1.2"/>
<path d="M1049 909 L1068 785 C1040 782 1000 790 965 800 C945 808 930 825 925 845 L924 975 C960 950 1010 928 1049 909 Z" fill="url(#gLL)"/>
<path d="M1049 909 L1068 785 C1100 790 1135 800 1160 825 L1172 845 L1178 900 L1172 918 L1160 978 C1120 955 1080 930 1049 909 Z" fill="url(#gRL)"/>
<path d="M1049 909 L1159 979 L1120 970 C1112 985 1104 1000 1096 1006 C1085 1002 1070 996 1060 992 C1052 1000 1045 1014 1034 1020 C1022 1008 1012 996 1000 989 C992 994 984 1000 977 1002 C970 992 960 978 950 966 L926 975 Z" fill="url(#gFL)"/>
<path d="M1049 915 L1150 975 C1100 958 1000 955 935 973 Z" fill="#d9dbc2" opacity="0.55"/>
<g fill="none" stroke-linecap="round"><path d="M926 975 L1049 909 L1159 979" stroke="#fbfbf2" stroke-width="6"/><path d="M928 980 L1049 915 L1157 984" stroke="#d8d9c6" stroke-width="1"/><path d="M1049 909 L1068 785" stroke="#fbfbf4" stroke-width="5"/><path d="M1046 905 L1064 786" stroke="#c9cab8" stroke-width="0.8"/></g>
<g filter="url(#fSh)"><g fill="none" stroke="#4a4a4a" stroke-width="4.8" stroke-linecap="round" stroke-linejoin="round"><path d="M917.0 851.0 C919.3 848.8 924.8 840.5 931.0 838.0 C937.2 835.5 949.4 835.5 954.0 836.0 C958.6 836.5 956.8 838.3 958.5 841.0 C960.2 843.7 962.4 847.8 964.0 852.0 C965.6 856.2 967.3 863.7 968.0 866.0"/><path d="M958.5 841.0 C959.2 838.3 960.1 830.8 963.0 825.0 C965.9 819.2 971.5 811.3 976.0 806.0 C980.5 800.7 987.7 795.2 990.0 793.0"/><path d="M990.0 793.0 C987.7 792.5 981.0 790.0 976.0 790.0 C971.0 790.0 965.5 789.8 960.0 793.0 C954.5 796.2 948.0 802.7 943.0 809.0 C938.0 815.3 932.2 827.3 930.0 831.0"/><path d="M990.0 793.0 C992.0 793.3 995.7 793.7 1002.0 795.0 C1008.3 796.3 1021.7 799.3 1028.0 801.0 C1034.3 802.7 1037.5 802.0 1040.0 805.0 C1042.5 808.0 1042.2 814.7 1043.0 819.0 C1043.8 823.3 1044.7 829.0 1045.0 831.0"/><path d="M990.0 793.0 C991.8 791.5 996.2 788.5 1001.0 784.0 C1005.8 779.5 1016.0 769.0 1019.0 766.0"/><path d="M1019.0 766.0 C1022.5 766.3 1032.8 766.8 1040.0 768.0 C1047.2 769.2 1057.0 771.2 1062.0 773.0 C1067.0 774.8 1068.7 778.0 1070.0 779.0"/><path d="M1019.0 766.0 C1021.5 764.5 1029.0 759.8 1034.0 757.0 C1039.0 754.2 1043.7 749.2 1049.0 749.0 C1054.3 748.8 1059.7 752.8 1066.0 756.0 C1072.3 759.2 1083.5 766.0 1087.0 768.0"/><path d="M1040.0 805.0 C1041.0 802.8 1043.2 795.5 1046.0 792.0 C1048.8 788.5 1053.0 786.2 1057.0 784.0 C1061.0 781.8 1067.8 779.8 1070.0 779.0"/><path d="M1070.0 779.0 C1073.2 779.8 1081.8 781.2 1089.0 784.0 C1096.2 786.8 1106.8 791.8 1113.0 796.0 C1119.2 800.2 1123.3 802.3 1126.0 809.0 C1128.7 815.7 1128.5 831.5 1129.0 836.0"/><path d="M1087.0 768.0 C1091.3 769.5 1103.7 771.5 1113.0 777.0 C1122.3 782.5 1138.0 797.0 1143.0 801.0"/><path d="M1126.0 809.0 C1126.8 808.0 1128.2 804.3 1131.0 803.0 C1133.8 801.7 1141.0 801.3 1143.0 801.0"/><path d="M1143.0 801.0 C1146.0 803.5 1155.3 810.3 1161.0 816.0 C1166.7 821.7 1172.5 829.0 1177.0 835.0 C1181.5 841.0 1186.0 845.7 1188.0 852.0 C1190.0 858.3 1188.8 869.5 1189.0 873.0"/><path d="M1143.0 801.0 C1147.5 804.5 1161.8 814.2 1170.0 822.0 C1178.2 829.8 1185.8 838.5 1192.0 848.0 C1198.2 857.5 1203.0 867.0 1207.0 879.0 C1211.0 891.0 1214.5 913.2 1216.0 920.0"/><path d="M930.0 831.0 C928.7 833.7 924.7 839.0 922.0 847.0 C919.3 855.0 916.7 869.7 914.0 879.0 C911.3 888.3 907.3 899.0 906.0 903.0"/><path d="M940.0 812.0 C938.5 816.7 933.8 830.0 931.0 840.0 C928.2 850.0 925.2 861.2 923.0 872.0 C920.8 882.8 918.8 899.5 918.0 905.0"/><path d="M914.0 893.0 C912.5 896.2 906.8 905.3 905.0 912.0 C903.2 918.7 902.7 925.7 903.0 933.0 C903.3 940.3 904.3 948.8 907.0 956.0 C909.7 963.2 916.5 976.7 919.0 976.0 C921.5 975.3 921.8 960.5 922.0 952.0 C922.2 943.5 921.3 934.8 920.0 925.0 C918.7 915.2 915.0 898.3 914.0 893.0 C913.0 887.7 915.5 889.8 914.0 893.0 Z"/><path d="M920.0 976.0 C921.8 981.2 927.2 998.0 931.0 1007.0 C934.8 1016.0 939.2 1022.8 943.0 1030.0 C946.8 1037.2 952.2 1046.7 954.0 1050.0"/><path d="M919.0 976.0 C919.1 979.2 919.4 991.8 919.5 995.0"/><path d="M949.0 966.0 C951.3 970.2 959.5 984.2 963.0 991.0 C966.5 997.8 968.8 1002.2 970.0 1007.0 C971.2 1011.8 970.0 1017.8 970.0 1020.0"/><path d="M947.0 1025.0 C948.8 1024.7 954.2 1023.8 958.0 1023.0 C961.8 1022.2 968.0 1020.5 970.0 1020.0"/><path d="M970.0 1020.0 C971.5 1022.2 974.3 1027.7 979.0 1033.0 C983.7 1038.3 993.2 1047.5 998.0 1052.0 C1002.8 1056.5 1005.6 1055.8 1008.0 1060.0 C1010.4 1064.2 1011.8 1074.2 1012.6 1077.0"/><path d="M1033.0 1019.0 C1033.6 1021.3 1039.2 1028.0 1036.5 1033.0 C1033.8 1038.0 1021.4 1044.5 1017.0 1049.0 C1012.6 1053.5 1010.7 1055.3 1010.0 1060.0 C1009.3 1064.7 1012.2 1074.2 1012.6 1077.0"/><path d="M1036.5 1033.0 C1039.9 1035.7 1050.4 1044.8 1057.0 1049.0 C1063.6 1053.2 1071.7 1053.3 1076.0 1058.0 C1080.3 1062.7 1081.6 1073.8 1082.7 1077.0"/><path d="M1097.0 1007.0 C1098.0 1009.7 1103.5 1017.7 1103.0 1023.0 C1102.5 1028.3 1097.2 1033.2 1094.0 1039.0 C1090.8 1044.8 1085.9 1051.7 1084.0 1058.0 C1082.1 1064.3 1082.9 1073.8 1082.7 1077.0"/><path d="M1103.0 1023.0 C1106.0 1024.2 1114.5 1028.3 1121.0 1030.0 C1127.5 1031.7 1137.2 1030.3 1142.0 1033.0 C1146.8 1035.7 1148.3 1043.8 1149.6 1046.0"/><path d="M1159.0 982.0 C1159.3 985.2 1162.8 992.8 1161.0 1001.0 C1159.2 1009.2 1150.2 1026.0 1148.0 1031.0"/><path d="M1159.0 982.0 C1161.4 982.5 1168.2 985.0 1173.5 985.0 C1178.8 985.0 1187.2 980.3 1191.0 982.0 C1194.8 983.7 1195.2 992.8 1196.0 995.0"/><path d="M1177.0 896.0 C1174.3 901.3 1165.0 917.3 1161.0 928.0 C1157.0 938.7 1153.3 951.0 1153.0 960.0 C1152.7 969.0 1158.0 978.3 1159.0 982.0"/><path d="M1192.0 925.0 C1192.7 930.0 1196.0 945.5 1196.0 955.0 C1196.0 964.5 1192.7 977.5 1192.0 982.0"/><path d="M1200.0 880.0 C1201.3 884.2 1205.5 896.2 1208.0 905.0 C1210.5 913.8 1213.8 928.3 1215.0 933.0"/></g><g fill="none" stroke="#a2a2a2" stroke-width="2.8" stroke-linecap="round" stroke-linejoin="round"><path d="M917.0 851.0 C919.3 848.8 924.8 840.5 931.0 838.0 C937.2 835.5 949.4 835.5 954.0 836.0 C958.6 836.5 956.8 838.3 958.5 841.0 C960.2 843.7 962.4 847.8 964.0 852.0 C965.6 856.2 967.3 863.7 968.0 866.0"/><path d="M958.5 841.0 C959.2 838.3 960.1 830.8 963.0 825.0 C965.9 819.2 971.5 811.3 976.0 806.0 C980.5 800.7 987.7 795.2 990.0 793.0"/><path d="M990.0 793.0 C987.7 792.5 981.0 790.0 976.0 790.0 C971.0 790.0 965.5 789.8 960.0 793.0 C954.5 796.2 948.0 802.7 943.0 809.0 C938.0 815.3 932.2 827.3 930.0 831.0"/><path d="M990.0 793.0 C992.0 793.3 995.7 793.7 1002.0 795.0 C1008.3 796.3 1021.7 799.3 1028.0 801.0 C1034.3 802.7 1037.5 802.0 1040.0 805.0 C1042.5 808.0 1042.2 814.7 1043.0 819.0 C1043.8 823.3 1044.7 829.0 1045.0 831.0"/><path d="M990.0 793.0 C991.8 791.5 996.2 788.5 1001.0 784.0 C1005.8 779.5 1016.0 769.0 1019.0 766.0"/><path d="M1019.0 766.0 C1022.5 766.3 1032.8 766.8 1040.0 768.0 C1047.2 769.2 1057.0 771.2 1062.0 773.0 C1067.0 774.8 1068.7 778.0 1070.0 779.0"/><path d="M1019.0 766.0 C1021.5 764.5 1029.0 759.8 1034.0 757.0 C1039.0 754.2 1043.7 749.2 1049.0 749.0 C1054.3 748.8 1059.7 752.8 1066.0 756.0 C1072.3 759.2 1083.5 766.0 1087.0 768.0"/><path d="M1040.0 805.0 C1041.0 802.8 1043.2 795.5 1046.0 792.0 C1048.8 788.5 1053.0 786.2 1057.0 784.0 C1061.0 781.8 1067.8 779.8 1070.0 779.0"/><path d="M1070.0 779.0 C1073.2 779.8 1081.8 781.2 1089.0 784.0 C1096.2 786.8 1106.8 791.8 1113.0 796.0 C1119.2 800.2 1123.3 802.3 1126.0 809.0 C1128.7 815.7 1128.5 831.5 1129.0 836.0"/><path d="M1087.0 768.0 C1091.3 769.5 1103.7 771.5 1113.0 777.0 C1122.3 782.5 1138.0 797.0 1143.0 801.0"/><path d="M1126.0 809.0 C1126.8 808.0 1128.2 804.3 1131.0 803.0 C1133.8 801.7 1141.0 801.3 1143.0 801.0"/><path d="M1143.0 801.0 C1146.0 803.5 1155.3 810.3 1161.0 816.0 C1166.7 821.7 1172.5 829.0 1177.0 835.0 C1181.5 841.0 1186.0 845.7 1188.0 852.0 C1190.0 858.3 1188.8 869.5 1189.0 873.0"/><path d="M1143.0 801.0 C1147.5 804.5 1161.8 814.2 1170.0 822.0 C1178.2 829.8 1185.8 838.5 1192.0 848.0 C1198.2 857.5 1203.0 867.0 1207.0 879.0 C1211.0 891.0 1214.5 913.2 1216.0 920.0"/><path d="M930.0 831.0 C928.7 833.7 924.7 839.0 922.0 847.0 C919.3 855.0 916.7 869.7 914.0 879.0 C911.3 888.3 907.3 899.0 906.0 903.0"/><path d="M940.0 812.0 C938.5 816.7 933.8 830.0 931.0 840.0 C928.2 850.0 925.2 861.2 923.0 872.0 C920.8 882.8 918.8 899.5 918.0 905.0"/><path d="M914.0 893.0 C912.5 896.2 906.8 905.3 905.0 912.0 C903.2 918.7 902.7 925.7 903.0 933.0 C903.3 940.3 904.3 948.8 907.0 956.0 C909.7 963.2 916.5 976.7 919.0 976.0 C921.5 975.3 921.8 960.5 922.0 952.0 C922.2 943.5 921.3 934.8 920.0 925.0 C918.7 915.2 915.0 898.3 914.0 893.0 C913.0 887.7 915.5 889.8 914.0 893.0 Z"/><path d="M920.0 976.0 C921.8 981.2 927.2 998.0 931.0 1007.0 C934.8 1016.0 939.2 1022.8 943.0 1030.0 C946.8 1037.2 952.2 1046.7 954.0 1050.0"/><path d="M919.0 976.0 C919.1 979.2 919.4 991.8 919.5 995.0"/><path d="M949.0 966.0 C951.3 970.2 959.5 984.2 963.0 991.0 C966.5 997.8 968.8 1002.2 970.0 1007.0 C971.2 1011.8 970.0 1017.8 970.0 1020.0"/><path d="M947.0 1025.0 C948.8 1024.7 954.2 1023.8 958.0 1023.0 C961.8 1022.2 968.0 1020.5 970.0 1020.0"/><path d="M970.0 1020.0 C971.5 1022.2 974.3 1027.7 979.0 1033.0 C983.7 1038.3 993.2 1047.5 998.0 1052.0 C1002.8 1056.5 1005.6 1055.8 1008.0 1060.0 C1010.4 1064.2 1011.8 1074.2 1012.6 1077.0"/><path d="M1033.0 1019.0 C1033.6 1021.3 1039.2 1028.0 1036.5 1033.0 C1033.8 1038.0 1021.4 1044.5 1017.0 1049.0 C1012.6 1053.5 1010.7 1055.3 1010.0 1060.0 C1009.3 1064.7 1012.2 1074.2 1012.6 1077.0"/><path d="M1036.5 1033.0 C1039.9 1035.7 1050.4 1044.8 1057.0 1049.0 C1063.6 1053.2 1071.7 1053.3 1076.0 1058.0 C1080.3 1062.7 1081.6 1073.8 1082.7 1077.0"/><path d="M1097.0 1007.0 C1098.0 1009.7 1103.5 1017.7 1103.0 1023.0 C1102.5 1028.3 1097.2 1033.2 1094.0 1039.0 C1090.8 1044.8 1085.9 1051.7 1084.0 1058.0 C1082.1 1064.3 1082.9 1073.8 1082.7 1077.0"/><path d="M1103.0 1023.0 C1106.0 1024.2 1114.5 1028.3 1121.0 1030.0 C1127.5 1031.7 1137.2 1030.3 1142.0 1033.0 C1146.8 1035.7 1148.3 1043.8 1149.6 1046.0"/><path d="M1159.0 982.0 C1159.3 985.2 1162.8 992.8 1161.0 1001.0 C1159.2 1009.2 1150.2 1026.0 1148.0 1031.0"/><path d="M1159.0 982.0 C1161.4 982.5 1168.2 985.0 1173.5 985.0 C1178.8 985.0 1187.2 980.3 1191.0 982.0 C1194.8 983.7 1195.2 992.8 1196.0 995.0"/><path d="M1177.0 896.0 C1174.3 901.3 1165.0 917.3 1161.0 928.0 C1157.0 938.7 1153.3 951.0 1153.0 960.0 C1152.7 969.0 1158.0 978.3 1159.0 982.0"/><path d="M1192.0 925.0 C1192.7 930.0 1196.0 945.5 1196.0 955.0 C1196.0 964.5 1192.7 977.5 1192.0 982.0"/><path d="M1200.0 880.0 C1201.3 884.2 1205.5 896.2 1208.0 905.0 C1210.5 913.8 1213.8 928.3 1215.0 933.0"/></g><g fill="none" stroke="#f2f2f2" stroke-width="0.9" stroke-linecap="round" transform="translate(-0.5 -0.6)"><path d="M917.0 851.0 C919.3 848.8 924.8 840.5 931.0 838.0 C937.2 835.5 949.4 835.5 954.0 836.0 C958.6 836.5 956.8 838.3 958.5 841.0 C960.2 843.7 962.4 847.8 964.0 852.0 C965.6 856.2 967.3 863.7 968.0 866.0"/><path d="M958.5 841.0 C959.2 838.3 960.1 830.8 963.0 825.0 C965.9 819.2 971.5 811.3 976.0 806.0 C980.5 800.7 987.7 795.2 990.0 793.0"/><path d="M990.0 793.0 C987.7 792.5 981.0 790.0 976.0 790.0 C971.0 790.0 965.5 789.8 960.0 793.0 C954.5 796.2 948.0 802.7 943.0 809.0 C938.0 815.3 932.2 827.3 930.0 831.0"/><path d="M990.0 793.0 C992.0 793.3 995.7 793.7 1002.0 795.0 C1008.3 796.3 1021.7 799.3 1028.0 801.0 C1034.3 802.7 1037.5 802.0 1040.0 805.0 C1042.5 808.0 1042.2 814.7 1043.0 819.0 C1043.8 823.3 1044.7 829.0 1045.0 831.0"/><path d="M990.0 793.0 C991.8 791.5 996.2 788.5 1001.0 784.0 C1005.8 779.5 1016.0 769.0 1019.0 766.0"/><path d="M1019.0 766.0 C1022.5 766.3 1032.8 766.8 1040.0 768.0 C1047.2 769.2 1057.0 771.2 1062.0 773.0 C1067.0 774.8 1068.7 778.0 1070.0 779.0"/><path d="M1019.0 766.0 C1021.5 764.5 1029.0 759.8 1034.0 757.0 C1039.0 754.2 1043.7 749.2 1049.0 749.0 C1054.3 748.8 1059.7 752.8 1066.0 756.0 C1072.3 759.2 1083.5 766.0 1087.0 768.0"/><path d="M1040.0 805.0 C1041.0 802.8 1043.2 795.5 1046.0 792.0 C1048.8 788.5 1053.0 786.2 1057.0 784.0 C1061.0 781.8 1067.8 779.8 1070.0 779.0"/><path d="M1070.0 779.0 C1073.2 779.8 1081.8 781.2 1089.0 784.0 C1096.2 786.8 1106.8 791.8 1113.0 796.0 C1119.2 800.2 1123.3 802.3 1126.0 809.0 C1128.7 815.7 1128.5 831.5 1129.0 836.0"/><path d="M1087.0 768.0 C1091.3 769.5 1103.7 771.5 1113.0 777.0 C1122.3 782.5 1138.0 797.0 1143.0 801.0"/><path d="M1126.0 809.0 C1126.8 808.0 1128.2 804.3 1131.0 803.0 C1133.8 801.7 1141.0 801.3 1143.0 801.0"/><path d="M1143.0 801.0 C1146.0 803.5 1155.3 810.3 1161.0 816.0 C1166.7 821.7 1172.5 829.0 1177.0 835.0 C1181.5 841.0 1186.0 845.7 1188.0 852.0 C1190.0 858.3 1188.8 869.5 1189.0 873.0"/><path d="M1143.0 801.0 C1147.5 804.5 1161.8 814.2 1170.0 822.0 C1178.2 829.8 1185.8 838.5 1192.0 848.0 C1198.2 857.5 1203.0 867.0 1207.0 879.0 C1211.0 891.0 1214.5 913.2 1216.0 920.0"/><path d="M930.0 831.0 C928.7 833.7 924.7 839.0 922.0 847.0 C919.3 855.0 916.7 869.7 914.0 879.0 C911.3 888.3 907.3 899.0 906.0 903.0"/><path d="M940.0 812.0 C938.5 816.7 933.8 830.0 931.0 840.0 C928.2 850.0 925.2 861.2 923.0 872.0 C920.8 882.8 918.8 899.5 918.0 905.0"/><path d="M914.0 893.0 C912.5 896.2 906.8 905.3 905.0 912.0 C903.2 918.7 902.7 925.7 903.0 933.0 C903.3 940.3 904.3 948.8 907.0 956.0 C909.7 963.2 916.5 976.7 919.0 976.0 C921.5 975.3 921.8 960.5 922.0 952.0 C922.2 943.5 921.3 934.8 920.0 925.0 C918.7 915.2 915.0 898.3 914.0 893.0 C913.0 887.7 915.5 889.8 914.0 893.0 Z"/><path d="M920.0 976.0 C921.8 981.2 927.2 998.0 931.0 1007.0 C934.8 1016.0 939.2 1022.8 943.0 1030.0 C946.8 1037.2 952.2 1046.7 954.0 1050.0"/><path d="M919.0 976.0 C919.1 979.2 919.4 991.8 919.5 995.0"/><path d="M949.0 966.0 C951.3 970.2 959.5 984.2 963.0 991.0 C966.5 997.8 968.8 1002.2 970.0 1007.0 C971.2 1011.8 970.0 1017.8 970.0 1020.0"/><path d="M947.0 1025.0 C948.8 1024.7 954.2 1023.8 958.0 1023.0 C961.8 1022.2 968.0 1020.5 970.0 1020.0"/><path d="M970.0 1020.0 C971.5 1022.2 974.3 1027.7 979.0 1033.0 C983.7 1038.3 993.2 1047.5 998.0 1052.0 C1002.8 1056.5 1005.6 1055.8 1008.0 1060.0 C1010.4 1064.2 1011.8 1074.2 1012.6 1077.0"/><path d="M1033.0 1019.0 C1033.6 1021.3 1039.2 1028.0 1036.5 1033.0 C1033.8 1038.0 1021.4 1044.5 1017.0 1049.0 C1012.6 1053.5 1010.7 1055.3 1010.0 1060.0 C1009.3 1064.7 1012.2 1074.2 1012.6 1077.0"/><path d="M1036.5 1033.0 C1039.9 1035.7 1050.4 1044.8 1057.0 1049.0 C1063.6 1053.2 1071.7 1053.3 1076.0 1058.0 C1080.3 1062.7 1081.6 1073.8 1082.7 1077.0"/><path d="M1097.0 1007.0 C1098.0 1009.7 1103.5 1017.7 1103.0 1023.0 C1102.5 1028.3 1097.2 1033.2 1094.0 1039.0 C1090.8 1044.8 1085.9 1051.7 1084.0 1058.0 C1082.1 1064.3 1082.9 1073.8 1082.7 1077.0"/><path d="M1103.0 1023.0 C1106.0 1024.2 1114.5 1028.3 1121.0 1030.0 C1127.5 1031.7 1137.2 1030.3 1142.0 1033.0 C1146.8 1035.7 1148.3 1043.8 1149.6 1046.0"/><path d="M1159.0 982.0 C1159.3 985.2 1162.8 992.8 1161.0 1001.0 C1159.2 1009.2 1150.2 1026.0 1148.0 1031.0"/><path d="M1159.0 982.0 C1161.4 982.5 1168.2 985.0 1173.5 985.0 C1178.8 985.0 1187.2 980.3 1191.0 982.0 C1194.8 983.7 1195.2 992.8 1196.0 995.0"/><path d="M1177.0 896.0 C1174.3 901.3 1165.0 917.3 1161.0 928.0 C1157.0 938.7 1153.3 951.0 1153.0 960.0 C1152.7 969.0 1158.0 978.3 1159.0 982.0"/><path d="M1192.0 925.0 C1192.7 930.0 1196.0 945.5 1196.0 955.0 C1196.0 964.5 1192.7 977.5 1192.0 982.0"/><path d="M1200.0 880.0 C1201.3 884.2 1205.5 896.2 1208.0 905.0 C1210.5 913.8 1213.8 928.3 1215.0 933.0"/></g></g>
<text x="206.0" y="32.3" font-family="Liberation Serif, serif" font-size="41.0" font-weight="bold" fill="#27399a" textLength="109.0" lengthAdjust="spacingAndGlyphs">TAVR</text>
<text x="200.0" y="114.0" font-family="Liberation Serif, serif" font-size="73.3" font-weight="bold" fill="#27399a" textLength="502.0" lengthAdjust="spacingAndGlyphs">Clinical Results</text>
<text x="918.0" y="211.8" font-family="Liberation Sans, sans-serif" font-size="113.4" fill="#0068b6" textLength="202.0" lengthAdjust="spacingAndGlyphs">7.03</text>
<text x="1121.0" y="210.5" font-family="Liberation Sans, sans-serif" font-size="55.0" fill="#0068b6" textLength="48.0" lengthAdjust="spacingAndGlyphs">%</text>
<text x="943.0" y="268.7" font-family="Liberation Serif, serif" font-size="34.7" font-weight="bold" fill="#0068b6" textLength="193.0" lengthAdjust="spacingAndGlyphs">Pacemaker</text>
<text x="892.0" y="307.0" font-family="Liberation Serif, serif" font-size="34.7" font-weight="bold" fill="#0068b6" textLength="304.0" lengthAdjust="spacingAndGlyphs">implantation rate</text>
<text x="885.0" y="344.0" font-family="Liberation Serif, serif" font-size="30.0" fill="#0068b6" textLength="317.0" lengthAdjust="spacingAndGlyphs"><tspan font-size="21">1</tspan> year after implantation</text>
<text x="426.0" y="421.8" font-family="Liberation Sans, sans-serif" font-size="113.4" fill="#595757" textLength="300.0" lengthAdjust="spacingAndGlyphs">3.91%</text>
<text x="413.0" y="479.0" font-family="Liberation Serif, serif" font-size="35.6" font-weight="bold" fill="#595757" textLength="329.0" lengthAdjust="spacingAndGlyphs">All-cause mortality</text>
<text x="406.0" y="516.4" font-family="Liberation Serif, serif" font-size="30.0" fill="#595757" textLength="33.0" lengthAdjust="spacingAndGlyphs"><tspan font-size="28.5" dy="5.5">3</tspan><tspan font-size="21.5" dy="-5.5">0</tspan></text>
<text x="448.0" y="516.4" font-family="Liberation Serif, serif" font-size="30.0" fill="#595757" textLength="300.0" lengthAdjust="spacingAndGlyphs">days after implantation</text>
<text x="1404.0" y="420.9" font-family="Liberation Sans, sans-serif" font-size="113.4" fill="#595757" textLength="147.0" lengthAdjust="spacingAndGlyphs">2.7</text>
<text x="1548.0" y="421.0" font-family="Liberation Sans, sans-serif" font-size="55.0" fill="#595757" textLength="48.0" lengthAdjust="spacingAndGlyphs">%</text>
<text x="1378.0" y="479.3" font-family="Liberation Serif, serif" font-size="35.6" font-weight="bold" fill="#595757" textLength="247.0" lengthAdjust="spacingAndGlyphs">PVL incidence</text>
<text x="1396.0" y="516.9" font-family="Liberation Serif, serif" font-size="30.0" fill="#595757" textLength="209.0" lengthAdjust="spacingAndGlyphs">Moderate above</text>
<text x="159.0" y="872.6" font-family="Liberation Sans, sans-serif" font-size="113.4" fill="#0068b6" textLength="206.0" lengthAdjust="spacingAndGlyphs">62.5</text>
<text x="366.0" y="871.3" font-family="Liberation Sans, sans-serif" font-size="55.0" fill="#0068b6" textLength="48.0" lengthAdjust="spacingAndGlyphs">%</text>
<text x="94.0" y="929.0" font-family="Liberation Serif, serif" font-size="35.6" font-weight="bold" fill="#0068b6" textLength="379.0" lengthAdjust="spacingAndGlyphs">Average transvalvular</text>
<text x="214.0" y="964.8" font-family="Liberation Serif, serif" font-size="35.6" font-weight="bold" fill="#0068b6" textLength="147.0" lengthAdjust="spacingAndGlyphs">gradient</text>
<text x="129.0" y="1003.2" font-family="Liberation Serif, serif" font-size="30.0" fill="#0068b6" textLength="317.0" lengthAdjust="spacingAndGlyphs"><tspan font-size="21">1</tspan> year after implantation</text>
<text x="1685.0" y="880.6" font-family="Liberation Sans, sans-serif" font-size="113.4" fill="#0068b6" textLength="197.0" lengthAdjust="spacingAndGlyphs">1.88</text>
<text x="1883.0" y="880.6" font-family="Liberation Sans, sans-serif" font-size="67.0" fill="#0068b6" textLength="77.0" lengthAdjust="spacingAndGlyphs">cm</text>
<text x="1959.0" y="858.6" font-family="Liberation Sans, sans-serif" font-size="29.6" fill="#0068b6" textLength="17.0" lengthAdjust="spacingAndGlyphs">2</text>
<text x="1644.0" y="938.3" font-family="Liberation Serif, serif" font-size="35.6" font-weight="bold" fill="#0068b6" textLength="359.0" lengthAdjust="spacingAndGlyphs">Average valve orifice</text>
<text x="1789.0" y="974.6" font-family="Liberation Serif, serif" font-size="35.6" font-weight="bold" fill="#0068b6" textLength="77.0" lengthAdjust="spacingAndGlyphs">area</text>
<text x="1670.0" y="1013.0" font-family="Liberation Serif, serif" font-size="30.0" fill="#0068b6" textLength="317.0" lengthAdjust="spacingAndGlyphs"><tspan font-size="21">1</tspan> year after implantation</text>
<text x="349.0" y="1351.4" font-family="Liberation Sans, sans-serif" font-size="113.4" fill="#595757" textLength="245.0" lengthAdjust="spacingAndGlyphs">10.51</text>
<text x="608.0" y="1351.4" font-family="Liberation Sans, sans-serif" font-size="61.0" fill="#595757" textLength="170.0" lengthAdjust="spacingAndGlyphs">mmHg</text>
<text x="293.0" y="1408.0" font-family="Liberation Serif, serif" font-size="35.6" font-weight="bold" fill="#595757" textLength="535.0" lengthAdjust="spacingAndGlyphs">Average transvalvular gradient</text>
<text x="402.0" y="1444.6" font-family="Liberation Serif, serif" font-size="30.0" fill="#595757" textLength="317.0" lengthAdjust="spacingAndGlyphs"><tspan font-size="21">1</tspan> year after implantation</text>
<text x="1405.0" y="1350.3" font-family="Liberation Sans, sans-serif" font-size="113.4" fill="#595757" textLength="270.0" lengthAdjust="spacingAndGlyphs">99.19</text>
<text x="1671.0" y="1349.3" font-family="Liberation Sans, sans-serif" font-size="55.0" fill="#595757" textLength="48.0" lengthAdjust="spacingAndGlyphs">%</text>
<text x="1463.0" y="1434.9" font-family="Liberation Serif, serif" font-size="35.6" font-weight="bold" fill="#595757" textLength="190.0" lengthAdjust="spacingAndGlyphs">Immediate</text>
<text x="1375.0" y="1493.3" font-family="Liberation Serif, serif" font-size="33.5" fill="#595757" textLength="376.0" lengthAdjust="spacingAndGlyphs">implantation success rate</text>
<text x="957.0" y="1547.3" font-family="Liberation Sans, sans-serif" font-size="113.4" fill="#0068b6" textLength="151.0" lengthAdjust="spacingAndGlyphs">0.8</text>
<text x="1104.0" y="1547.3" font-family="Liberation Sans, sans-serif" font-size="55.0" fill="#0068b6" textLength="48.0" lengthAdjust="spacingAndGlyphs">%</text>
<text x="888.0" y="1632.4" font-family="Liberation Serif, serif" font-size="35.6" font-weight="bold" fill="#0068b6" textLength="324.0" lengthAdjust="spacingAndGlyphs">Coronary blockage</text>
</svg>
</body></html>
